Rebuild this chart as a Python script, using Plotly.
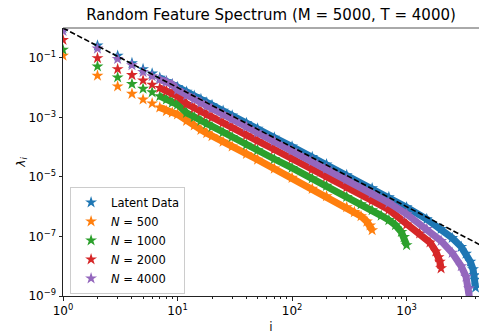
import plotly.graph_objects as go

# ---------------- data ----------------
TITLE = "Random Feature Spectrum (M = 5000, T = 4000)"
SERIES_NAMES = ["Latent Data", "<i>N</i> = 500", "<i>N</i> = 1000", "<i>N</i> = 2000", "<i>N</i> = 4000"]
COLORS = ["#1f77b4", "#ff7f0e", "#2ca02c", "#d62728", "#9467bd"]

HEAD_I = [1, 2, 3, 4, 5, 6, 7, 8, 9, 10, 12, 14, 16, 18, 20, 25, 30, 40, 50, 70, 100, 150, 200, 300]

# eigenvalue index i for each series
LATENT_I = HEAD_I + [500, 700, 1000, 1500, 2000, 2500, 3000, 3300, 3600, 3800, 3900, 3950, 4000]
N500_I = HEAD_I + [350, 400, 450, 480, 500]
N1000_I = HEAD_I + [400, 500, 600, 700, 800, 900, 950, 1000]
N2000_I = HEAD_I + [500, 700, 1000, 1300, 1600, 1800, 1900, 1950, 2000]
N4000_I = HEAD_I + [500, 700, 1000, 1500, 2000, 2500, 3000, 3300, 3500, 3600, 3700, 3800]

# log10 of eigenvalue lambda_i
LATENT_LOG10 = [0.0, -0.59, -0.93, -1.18, -1.38, -1.53, -1.67, -1.79, -1.89, -1.98,
                -2.14, -2.28, -2.39, -2.50, -2.59, -2.78, -2.94, -3.19, -3.38, -3.68,
                -3.98, -4.33, -4.58, -4.94,
                -5.38, -5.68, -6.02, -6.42, -6.75, -7.05, -7.35, -7.58, -7.85, -8.10,
                -8.30, -8.45, -8.72]
N500_LOG10 = [-0.93, -1.60, -1.96, -2.21, -2.40, -2.53, -2.67, -2.79, -2.84, -2.90,
              -3.12, -3.27, -3.42, -3.53, -3.63, -3.82, -3.98, -4.23, -4.42, -4.72,
              -5.03, -5.40, -5.65, -6.02,
              -6.18, -6.32, -6.50, -6.63, -6.79]
N1000_LOG10 = [-0.73, -1.29, -1.66, -1.88, -2.04, -2.16, -2.29, -2.40, -2.51, -2.57,
               -2.85, -2.99, -3.12, -3.22, -3.32, -3.50, -3.66, -3.92, -4.10, -4.40,
               -4.70, -5.05, -5.30, -5.67,
               -5.92, -6.12, -6.30, -6.45, -6.62, -6.85, -7.02, -7.29]
N2000_LOG10 = [-0.40, -1.01, -1.38, -1.58, -1.76, -1.90, -2.01, -2.12, -2.20, -2.29,
               -2.55, -2.69, -2.80, -2.91, -3.00, -3.18, -3.34, -3.60, -3.79, -4.08,
               -4.38, -4.74, -4.99, -5.35,
               -5.80, -6.10, -6.60, -6.90, -7.20, -7.50, -7.70, -7.85, -8.07]
N4000_LOG10 = [-0.10, -0.69, -1.04, -1.25, -1.48, -1.62, -1.73, -1.81, -1.90, -2.08,
               -2.26, -2.39, -2.51, -2.61, -2.71, -2.90, -3.06, -3.31, -3.51, -3.80,
               -4.11, -4.47, -4.72, -5.08,
               -5.55, -5.87, -6.25, -6.75, -7.15, -7.55, -8.00, -8.35, -8.75, -9.10,
               -9.50, -10.0]

# reference power law (dashed), lambda = i^-2
REF_I = [1, 5000]
REF_LAMBDA = [1.0, 4.0e-8]

X_TICKS = [1, 10, 100, 1000]
X_TICK_TEXT = ["10<sup>0</sup>", "10<sup>1</sup>", "10<sup>2</sup>", "10<sup>3</sup>"]
X_MINOR = [m * d for d in (1, 10, 100, 1000) for m in range(2, 10) if m * d < 4300]
Y_TICKS = [1e-9, 1e-7, 1e-5, 1e-3, 1e-1]
Y_TICK_TEXT = ["10<sup>\u22129</sup>", "10<sup>\u22127</sup>", "10<sup>\u22125</sup>",
               "10<sup>\u22123</sup>", "10<sup>\u22121</sup>"]

# ---------------- figure ----------------
FONT = "DejaVu Sans"
series = [
    (LATENT_I, LATENT_LOG10),
    (N500_I, N500_LOG10),
    (N1000_I, N1000_LOG10),
    (N2000_I, N2000_LOG10),
    (N4000_I, N4000_LOG10),
]

fig = go.Figure()
for (xs, logs), name, color in zip(series, SERIES_NAMES, COLORS):
    ys = [10 ** v for v in logs]
    # dense run of overlapping stars -> thick band
    fig.add_trace(go.Scatter(x=xs[6:], y=ys[6:], mode="lines",
                             line=dict(color=color, width=7),
                             showlegend=False, hoverinfo="skip"))
    fig.add_trace(go.Scatter(x=xs, y=ys, mode="markers", name=name,
                             marker=dict(symbol="star", size=9, color=color,
                                         line=dict(width=0))))

fig.add_trace(go.Scatter(x=REF_I, y=REF_LAMBDA, mode="lines", showlegend=False,
                         line=dict(color="black", width=1.6, dash="5.5px,2.5px")))

fig.update_layout(
    width=479, height=334,
    margin=dict(l=63, r=0, t=28, b=36),
    paper_bgcolor="white", plot_bgcolor="white",
    font=dict(family=FONT, size=12, color="black"),
    title=dict(text=TITLE, x=0.5, xref="paper", y=1 - 15 / 334, yanchor="middle",
               font=dict(family=FONT, size=15, color="black")),
    showlegend=True,
    legend=dict(x=0.017, y=0.008, xanchor="left", yanchor="bottom",
                bgcolor="rgba(255,255,255,0.8)", bordercolor="#cccccc", borderwidth=1,
                tracegroupgap=0,
                font=dict(family=FONT, size=11.5, color="black")),
    xaxis=dict(type="log", range=[0, 3.632], showgrid=False, zeroline=False,
               showline=True, linecolor="#222", linewidth=1,
               ticks="outside", ticklen=3.5, tickwidth=1, tickcolor="#222",
               tickmode="array", tickvals=X_TICKS, ticktext=X_TICK_TEXT,
               tickfont=dict(family=FONT, size=12, color="black"),
               minor=dict(tickmode="array", tickvals=X_MINOR, ticks="outside",
                          ticklen=2, tickwidth=0.8, tickcolor="#222", showgrid=False),
               title=dict(text="i", standoff=8,
                          font=dict(family=FONT, size=12, color="#111111"))),
    yaxis=dict(type="log", range=[-9, 0], showgrid=False, zeroline=False,
               showline=True, linecolor="#222", linewidth=1,
               ticks="outside", ticklen=3.5, tickwidth=1, tickcolor="#222",
               tickmode="array", tickvals=Y_TICKS, ticktext=Y_TICK_TEXT,
               tickfont=dict(family=FONT, size=12, color="black"),
               title=dict(text="<i>\u03bb</i><sub><i>i</i></sub>", standoff=0,
                          font=dict(family=FONT, size=12, color="black"))),
    shapes=[dict(type="line", xref="paper", yref="paper", x0=0, x1=1, y0=1, y1=1,
                 line=dict(color="#555", width=1))],
)

fig.write_html("out.html")
